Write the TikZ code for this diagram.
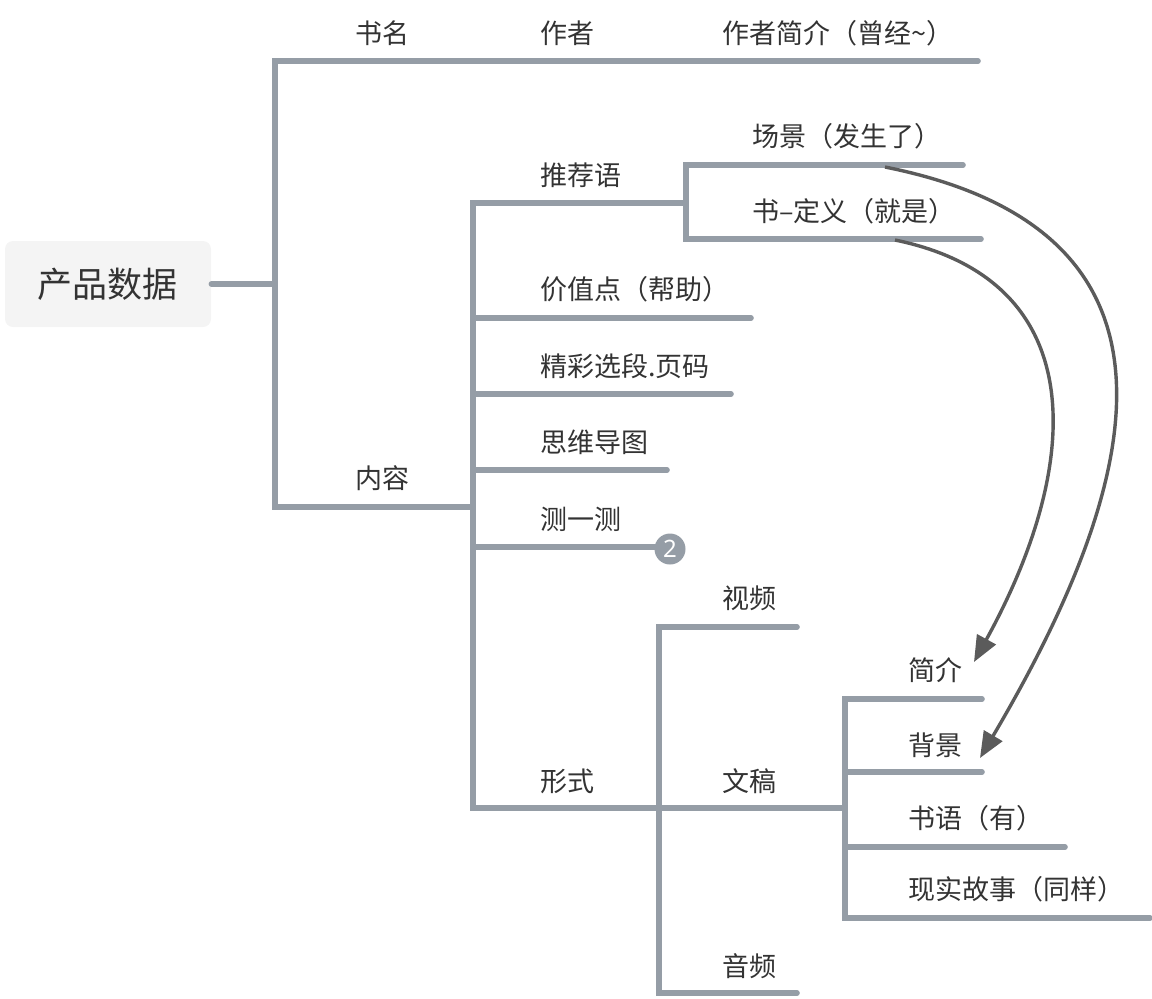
\documentclass[tikz,border=0pt]{standalone}
\usepackage{fontspec}
\newfontfamily\cjk{Noto Sans CJK SC}
\newfontfamily\badgefont{Noto Sans}
\usetikzlibrary{arrows.meta}
\definecolor{branch}{HTML}{959DA6}
\definecolor{txt}{HTML}{333333}
\definecolor{rel}{HTML}{5B5B5B}
\definecolor{rootfill}{HTML}{F4F4F4}
\begin{document}
\begin{tikzpicture}[x=0.5pt,y=-0.5pt,
  lbl/.style={font=\cjk\fontsize{13.5}{16}\selectfont, text=txt, inner sep=0pt, anchor=west},
  rootbox/.style={font=\cjk\fontsize{17.5}{20}\selectfont, text=txt, fill=rootfill, rounded corners=4pt, minimum width=103pt, minimum height=43pt, inner sep=0pt},
  br/.style={draw=branch, line width=2.8pt, line cap=round},
  relarrow/.style={draw=rel, line width=1.7pt, -{Triangle[length=13pt,width=10.5pt]}},
  badge/.style={circle, fill=branch, text=white, minimum size=15.5pt, inner sep=0pt, font=\badgefont\fontsize{12}{13}\selectfont}]
\useasboundingbox (0,0) rectangle (1152,998);

% root
\node[rootbox] (root) at (108,284) {产品数据};

% junction coordinates
\coordinate (j0) at (275,284);
\coordinate (jtop) at (275,61);
\coordinate (jnr) at (275,507);
\coordinate (jn) at (473,507);

% top chain labels
\node[lbl] (shuming) at (355,33) {书名};
\node[lbl] (zuozhe) at (540,33) {作者};
\node[lbl] (jianjie) at (722,33) {作者简介（曾经\char"007E）};
\coordinate (topend) at (978,61);

% content
\node[lbl] (neirong) at (355,478) {内容};
\coordinate (ntop) at (473,203);
\coordinate (nbot) at (473,808);

\node[lbl] (tuijian) at (540,175) {推荐语};
\coordinate (tj) at (686,203);
\coordinate (tjt) at (686,165);
\coordinate (tjb) at (686,239);
\node[lbl] (changjing) at (752,136) {场景（发生了）};
\coordinate (cjend) at (963,165);
\node[lbl] (dingyi) at (752,211) {书–定义（就是）};
\coordinate (dyend) at (981,239);

\node[lbl] (jiazhi) at (540,289) {价值点（帮助）};
\coordinate (jzs) at (473,318);
\coordinate (jze) at (751,318);
\node[lbl] (jingcai) at (540,366) {精彩选段.页码};
\coordinate (jcs) at (473,394);
\coordinate (jce) at (731,394);
\node[lbl] (siwei) at (540,442) {思维导图};
\coordinate (sws) at (473,470);
\coordinate (swe) at (667,470);
\node[lbl] (ceyice) at (540,519) {测一测};
\coordinate (cys) at (473,547);
\coordinate (cye) at (656,547);

\node[lbl] (xingshi) at (540,781) {形式};
\coordinate (xs) at (659,808);
\coordinate (xst) at (659,627);
\coordinate (xsb) at (659,993);
\node[lbl] (shipin) at (722,598) {视频};
\coordinate (spe) at (797,627);
\node[lbl] (wengao) at (722,781) {文稿};
\coordinate (wg) at (845,808);
\node[lbl] (yinpin) at (722,966) {音频};
\coordinate (ype) at (797,993);

\coordinate (wgt) at (845,699);
\coordinate (wgb) at (845,918);
\node[lbl] (jj) at (908,670) {简介};
\coordinate (jje) at (982,699);
\node[lbl] (bj) at (908,745) {背景};
\coordinate (bjs) at (845,772);
\coordinate (bje) at (982,772);
\node[lbl] (sy) at (908,818) {书语（有）};
\coordinate (sys) at (845,847);
\coordinate (sye) at (1065,847);
\node[lbl] (xsgs) at (908,889) {现实故事（同样）};
\coordinate (xse) at (1150,918);

% branches
\draw[br] (root.east) -- (j0);
\draw[br] (topend) -- (jtop) -- (jnr) -- (jn);
\draw[br] (tj) -- (ntop) -- (nbot) -- (xs);
\draw[br] (cjend) -- (tjt) -- (tjb) -- (dyend);
\draw[br] (jzs) -- (jze);
\draw[br] (jcs) -- (jce);
\draw[br] (sws) -- (swe);
\draw[br] (cys) -- (cye);
\draw[br] (spe) -- (xst) -- (xsb) -- (ype);
\draw[br] (xs) -- (wg);
\draw[br] (jje) -- (wgt) -- (wgb) -- (xse);
\draw[br] (bjs) -- (bje);
\draw[br] (sys) -- (sye);

% badge
\node[badge] (b2) at (670,549) {2};

% relationship arrows
\coordinate (a1s) at (885,167);
\coordinate (a1e) at (980,758);
\coordinate (a2s) at (895,240);
\coordinate (a2e) at (974,662);
\draw[relarrow] (a1s) .. controls (1200,230) and (1150,470) .. (a1e);
\draw[relarrow] (a2s) .. controls (1090,280) and (1085,460) .. (a2e);
\end{tikzpicture}
\end{document}
